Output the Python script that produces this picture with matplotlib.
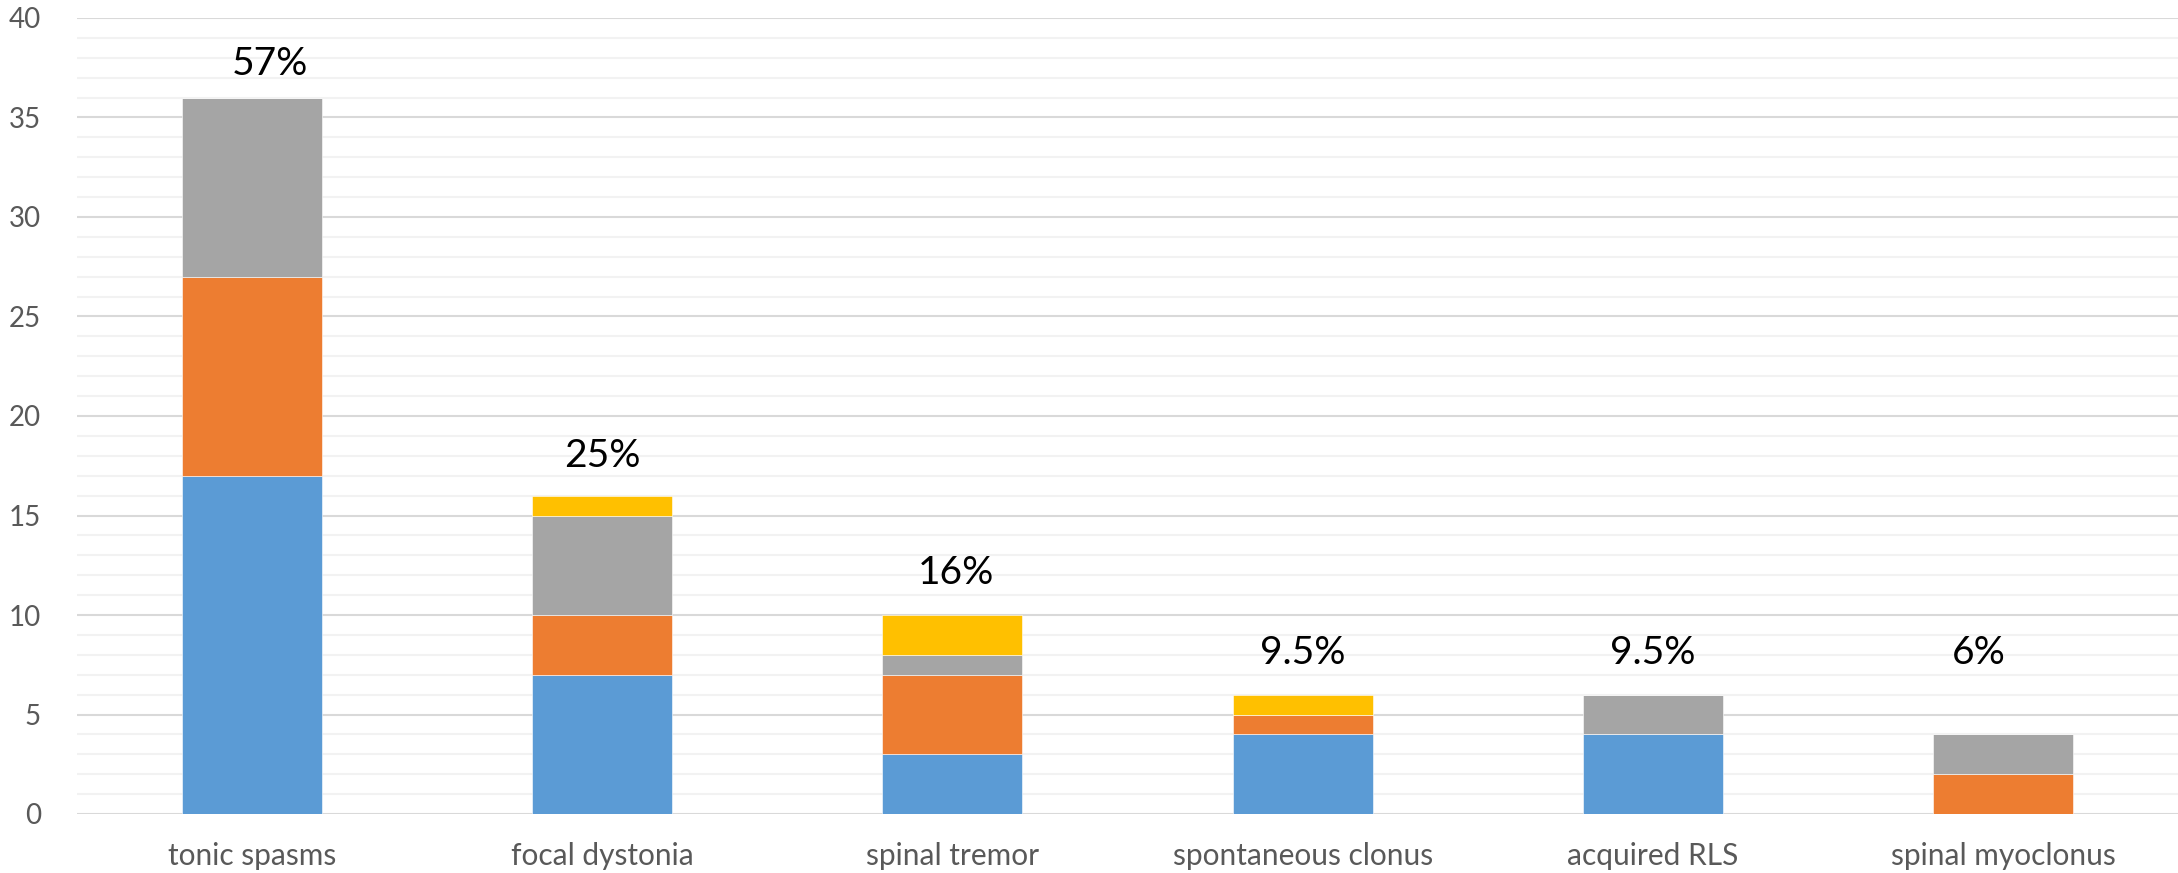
import matplotlib
matplotlib.use("Agg")
import matplotlib.pyplot as plt
import numpy as np

categories = ["tonic spasms", "focal dystonia", "spinal tremor",
              "spontaneous clonus", "acquired RLS", "spinal myoclonus"]
blue_vals = [17, 7, 3, 4, 4, 0]
orange_vals = [10, 3, 4, 1, 0, 2]
gray_vals = [9, 5, 1, 0, 2, 2]
yellow_vals = [0, 1, 2, 1, 0, 0]
pct_labels = ["57%", "25%", "16%", "9.5%", "9.5%", "6%"]
label_y = [37.7, 18.0, 12.1, 8.1, 8.1, 8.1]
label_dx = [0.05, 0.0, 0.01, 0.0, 0.0, -0.07]

series = [blue_vals, orange_vals, gray_vals, yellow_vals]
colors = ["#5B9BD5", "#ED7D31", "#A5A5A5", "#FFC000"]

plt.rcParams['font.family'] = ['Lato', 'DejaVu Sans']

fig = plt.figure(figsize=(21.78, 8.73), dpi=100)
ax = fig.add_axes([77/2178, 1 - 814/873, (2178-77)/2178, (814-18)/873])

x = np.arange(len(categories))
bottom = np.zeros(len(categories))
for vals, c in zip(series, colors):
    v = np.array(vals, dtype=float)
    ax.bar(x, v, width=0.40, bottom=bottom, color=c,
           edgecolor="white", linewidth=0.4, zorder=3)
    bottom += v

for xi, lab, ly, dx in zip(x, pct_labels, label_y, label_dx):
    ax.text(xi + dx, ly, lab, ha="center", va="center", fontsize=28,
            color="black", zorder=4)

ax.set_xlim(-0.5, len(categories) - 0.5)
ax.set_ylim(0, 40)
ax.set_yticks(np.arange(0, 41, 5))
ax.set_yticks(np.arange(0, 41, 1), minor=True)
ax.yaxis.grid(True, which="major", color="#D9D9D9", linewidth=1.5, zorder=0)
ax.yaxis.grid(True, which="minor", color="#F2F2F2", linewidth=1.5, zorder=0)
ax.set_xticks(x)
ax.set_xticklabels(categories)
for s in ax.spines.values():
    s.set_visible(False)
ax.tick_params(axis="both", which="both", length=0, labelsize=20,
               labelcolor="#595959")
ax.tick_params(axis="x", labelsize=21.5, pad=20)
ax.tick_params(axis="y", pad=26)

fig.savefig("out.png", dpi=100)
